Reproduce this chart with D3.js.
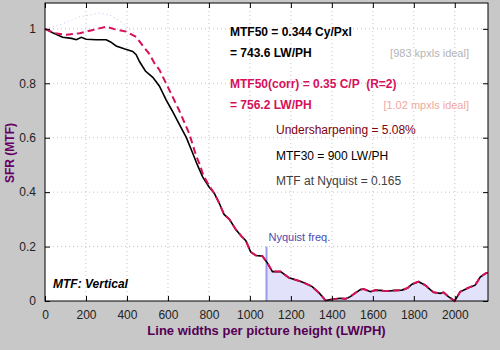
<!DOCTYPE html>
<html lang="en">
<head>
<meta charset="UTF-8">
<script src="https://d3js.org/d3.v7.min.js"></script>
<style>
  body { margin: 0; background: #c8c8c8; font-family: "Liberation Sans", Arial, sans-serif; }
  svg { display: block; }
</style>
</head>
<body>
<div id="chart"></div>
<script>
// MTF (black): [LW/PH, SFR]
const mtfX = [0, 40, 86, 130, 153, 177, 201, 250, 299, 320, 347, 390, 428, 445, 461, 490, 526, 558, 591, 620, 655, 690, 720, 743.6, 770, 800, 826, 850, 874, 900, 931, 960, 980, 1004, 1030, 1061, 1085, 1110, 1150, 1191, 1239, 1270, 1304, 1340, 1369, 1401, 1440, 1467, 1490, 1515, 1540, 1556, 1588, 1613, 1650, 1677, 1710, 1742, 1770, 1791, 1823, 1856, 1880, 1896, 1929, 1945, 1969, 1999, 2026, 2067, 2099, 2124, 2151, 2162];
const mtfY = [1.0, 0.985, 0.969, 0.965, 0.96, 0.969, 0.962, 0.96, 0.96, 0.952, 0.937, 0.926, 0.917, 0.905, 0.88, 0.845, 0.822, 0.79, 0.739, 0.7, 0.65, 0.6, 0.545, 0.5, 0.455, 0.42, 0.396, 0.36, 0.318, 0.3, 0.263, 0.237, 0.222, 0.18, 0.167, 0.165, 0.14, 0.108, 0.108, 0.085, 0.074, 0.065, 0.053, 0.028, 0.002, 0.006, 0.01, 0.008, 0.016, 0.03, 0.042, 0.044, 0.034, 0.04, 0.038, 0.037, 0.039, 0.04, 0.048, 0.062, 0.071, 0.058, 0.042, 0.032, 0.028, 0.032, 0.016, 0.0, 0.034, 0.049, 0.058, 0.088, 0.102, 0.104];

// corrected MTF (red dashed) up to where it joins the black curve
const corrX = [0, 47, 104, 169, 234, 299, 339, 396, 445, 480, 509, 534, 558, 607, 655, 704, 737, 756.2, 772, 800];
const corrY = [1.0, 0.984, 0.978, 0.984, 0.996, 1.008, 0.999, 0.99, 0.97, 0.935, 0.908, 0.874, 0.85, 0.775, 0.7, 0.615, 0.535, 0.5, 0.463, 0.425];

// faint dotted curve near the top
const faintX = [0, 72, 169, 266, 315, 364, 427, 470];
const faintY = [1.0, 1.015, 1.044, 1.058, 1.051, 1.03, 0.99, 0.95];

const xTicks = [0, 200, 400, 600, 800, 1000, 1200, 1400, 1600, 1800, 2000];
const yTicks = [0, 0.2, 0.4, 0.6, 0.8, 1];
const nyquist = 1081;

const W = 500, H = 350;
const margin = { top: 3, right: 12, bottom: 49, left: 45 };
const width = W - margin.left - margin.right,
      height = H - margin.top - margin.bottom;

const svg = d3.select("#chart").append("svg")
    .attr("width", W).attr("height", H);

const g = svg.append("g")
    .attr("transform", `translate(${margin.left},${margin.top})`);

const x = d3.scaleLinear().domain([0, 2162]).range([0, width]);
const y = d3.scaleLinear().domain([0, 1.095]).range([height, 0]);

g.append("rect").attr("width", width).attr("height", height).attr("fill", "#fff");

// dotted grid
g.selectAll(".vgrid").data(xTicks.slice(1)).enter().append("line")
    .attr("x1", d => x(d)).attr("x2", d => x(d))
    .attr("y1", 0).attr("y2", height)
    .attr("stroke", "#c4c4c4").attr("stroke-dasharray", "1,3");
g.selectAll(".hgrid").data(yTicks.slice(1)).enter().append("line")
    .attr("x1", 0).attr("x2", width)
    .attr("y1", d => y(d)).attr("y2", d => y(d))
    .attr("stroke", "#c4c4c4").attr("stroke-dasharray", "1,3");

const mtf = mtfX.map((d, i) => [d, mtfY[i]]);
const corr = corrX.map((d, i) => [d, corrY[i]]).concat(mtf.filter(d => d[0] > 800));
const faint = faintX.map((d, i) => [d, faintY[i]]);

// shaded area beyond Nyquist
const nyqVal = d3.scaleLinear().domain(mtfX).range(mtfY)(nyquist);
const beyond = [[nyquist, nyqVal]].concat(mtf.filter(d => d[0] > nyquist));
g.append("path").datum(beyond)
    .attr("fill", "#e2e2fa")
    .attr("d", d3.area().x(d => x(d[0])).y0(height).y1(d => y(d[1])));

g.append("line")
    .attr("x1", x(nyquist)).attr("x2", x(nyquist))
    .attr("y1", y(0.2)).attr("y2", height)
    .attr("stroke", "#9a9aea").attr("stroke-width", 2);

g.append("text").attr("x", x(nyquist) + 2).attr("y", y(0.2) - 6)
    .attr("font-size", 11).attr("fill", "#4a4ab0").text("Nyquist freq.");

const line = d3.line().x(d => x(d[0])).y(d => y(d[1]));

g.append("path").datum(faint).attr("d", line)
    .attr("fill", "none").attr("stroke", "#c4c4f6").attr("stroke-dasharray", "1,3");

g.append("path").datum(mtf).attr("d", line)
    .attr("fill", "none").attr("stroke", "#000").attr("stroke-width", 1.6);

g.append("path").datum(corr).attr("d", line)
    .attr("fill", "none").attr("stroke", "#d6105a").attr("stroke-width", 2)
    .attr("stroke-dasharray", "7,4");

// frame
g.append("rect").attr("width", width).attr("height", height)
    .attr("fill", "none").attr("stroke", "#000");

// axes with inward ticks
g.append("g").attr("transform", `translate(0,${height})`)
    .call(d3.axisBottom(x).tickValues(xTicks).tickSize(-5).tickPadding(9).tickFormat(d3.format("d")));
g.append("g").call(d3.axisTop(x).tickValues(xTicks).tickSize(-5).tickFormat(""));
g.append("g")
    .call(d3.axisLeft(y).tickValues(yTicks).tickSize(-5).tickPadding(9).tickFormat(d => d));
g.append("g").attr("transform", `translate(${width},0)`)
    .call(d3.axisRight(y).tickValues(yTicks).tickSize(-5).tickFormat(""));

g.selectAll(".domain").remove();
g.selectAll(".tick text")
    .attr("font-family", "Liberation Sans, Arial, sans-serif")
    .attr("font-size", 12).attr("fill", "#222");

// axis titles
svg.append("text")
    .attr("x", margin.left + width / 2).attr("y", 335)
    .attr("text-anchor", "middle")
    .attr("font-size", 13).attr("font-weight", "bold").attr("fill", "#550055")
    .text("Line widths per picture height (LW/PH)");

svg.append("text")
    .attr("transform", "translate(14,153) rotate(-90)")
    .attr("text-anchor", "middle")
    .attr("font-size", 12).attr("font-weight", "bold").attr("fill", "#660066")
    .text("SFR (MTF)");

// annotations
const note = (tx, ty, txt, opts) => {
    const t = svg.append("text").attr("x", tx).attr("y", ty)
        .attr("font-size", opts.size || 12)
        .attr("font-weight", opts.bold ? "bold" : "normal")
        .attr("fill", opts.color || "#000")
        .style("white-space", "pre")
        .text(txt);
    if (opts.anchor) t.attr("text-anchor", opts.anchor);
    if (opts.italic) t.attr("font-style", "italic");
};
note(230, 36, "MTF50 = 0.344 Cy/Pxl", { bold: true });
note(230, 57, "= 743.6 LW/PH", { bold: true });
note(469, 57, "[983 kpxls ideal]", { size: 11, color: "#b4b4b4", anchor: "end" });
note(230, 88, "MTF50(corr) = 0.35 C/P  (R=2)", { bold: true, color: "#d6105a" });
note(230, 109, "= 756.2 LW/PH", { bold: true, color: "#d6105a" });
note(469, 109, "[1.02 mpxls ideal]", { size: 11, color: "#f0a8a0", anchor: "end" });
note(276, 134, "Undersharpening = 5.08%", { size: 12, color: "#800010" });
note(276, 160, "MTF30 = 900 LW/PH", { size: 12, color: "#000" });
note(276, 185, "MTF at Nyquist = 0.165", { size: 12, color: "#404040" });
note(53, 288, "MTF: Vertical", { bold: true, italic: true });
</script>
</body>
</html>
